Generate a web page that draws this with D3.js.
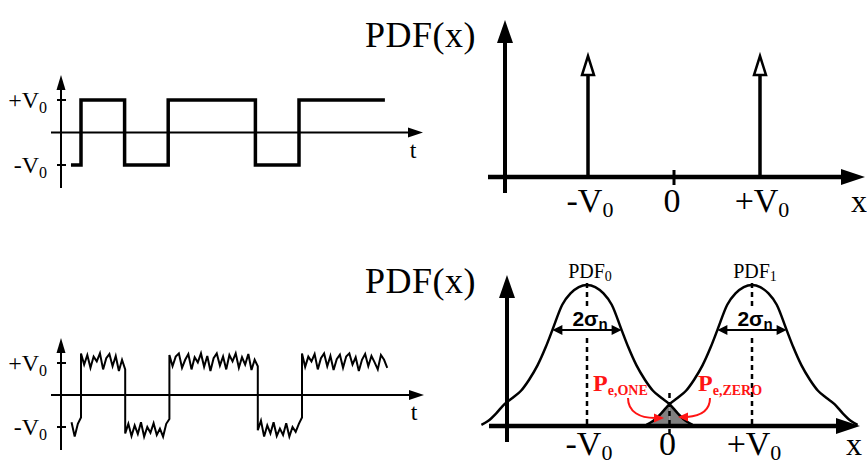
<!DOCTYPE html>
<html>
<head>
<meta charset="utf-8">
<script src="https://cdn.jsdelivr.net/npm/d3@7"></script>
<style>
body { margin: 0; background: #fff; }
svg { display: block; }
</style>
</head>
<body>
<div id="viz"></div>
<script>
// ---- data -------------------------------------------------------------
// bit pattern of both waveforms (1 = +V0, 0 = -V0), in bit periods
const bits = [1, 0, 1, 1, 0, 1, 1];
const cleanStart = -0.23;      // wave starts low just before bit 0
const cleanEnd = 6.97;
// noisy copy: samples every 1/14 bit, starting 3 samples before bit 0
const samplesPerBit = 14;
const noisyStartSample = -3;
const noise = [
  0.15, -0.3, 0.1,
  0.3, -0.05, 0.25, -0.15, 0.2, 0.05, 0.3, -0.2, 0.15, 0.28, -0.1, 0.22, -0.25, 0.1,
  -0.2, 0.1, -0.28, 0.05, -0.22, 0.15, -0.3, 0.0, -0.18, 0.12, -0.25, -0.05, -0.3, 0.1,
  0.25, -0.1, 0.2, 0.3, -0.15, 0.1, 0.28, -0.2, 0.18, 0.02, 0.3, -0.12, 0.22, -0.25,
  0.15, 0.3, -0.08, 0.2, -0.2, 0.25, 0.05, 0.3, -0.15, 0.18, -0.05, 0.28, -0.22, 0.1,
  -0.1, 0.2, -0.3, 0.05, -0.2, 0.15, -0.28, -0.05, -0.25, 0.12, -0.3, 0.0, -0.15, 0.1,
  0.3, -0.12, 0.2, 0.05, 0.28, -0.2, 0.15, 0.3, -0.1, 0.22, -0.22, 0.12, 0.26, -0.15,
  0.2, 0.3, -0.05, 0.18, -0.25, 0.1, 0.28, -0.1, 0.22, 0.02, -0.2, 0.25, 0.1, -0.15
];
const levels = [-1, 1];                 // -V0, +V0
const levelLabels = ['-V', '+V'];

// PDF panels
const pdfCentres = [-1, 1];
const pdfNames = ['0', '1'];
const deltaHeight = 1;
// half of one gaussian bump (offset from centre in V0, relative height)
const pdfOffsets = [0, 0.1, 0.2, 0.3, 0.42, 0.5, 0.6, 0.7, 0.8, 0.9, 1.0, 1.1, 1.2, 1.28];
const pdfHeights = [1, 0.985, 0.94, 0.86, 0.68, 0.56, 0.43, 0.33, 0.25, 0.2, 0.155, 0.09, 0.035, 0.008];
const sigmaMarkIndex = 4;               // 2σ arrow drawn at offset ±0.42
const xTicks = [
  { v: -1, main: '-V', sub: '0' },
  { v: 0, main: '0', sub: '' },
  { v: 1, main: '+V', sub: '0' }
];

// ---- setup ------------------------------------------------------------
const WIDTH = 867, HEIGHT = 466;
const SERIF = '"Liberation Serif", "Times New Roman", serif';
const SANS = '"Liberation Sans", Arial, sans-serif';
const RED = '#ff1414';

const svg = d3.select('#viz').append('svg')
  .attr('width', WIDTH)
  .attr('height', HEIGHT);

const arrowHead = (g, x, y, angle, len, half, fill, stroke) => {
  // tip at (x, y), pointing along angle (deg, 0 = right)
  g.append('path')
    .attr('d', `M0,0L${-len},${-half}L${-len},${half}Z`)
    .attr('transform', `translate(${x},${y}) rotate(${angle})`)
    .attr('fill', fill)
    .attr('stroke', stroke || 'none')
    .attr('stroke-width', stroke ? 2.5 : 0)
    .attr('stroke-linejoin', 'miter');
};

const subText = (g, x, y, main, sub, o) => {
  const t = g.append('text')
    .attr('x', x).attr('y', y)
    .attr('text-anchor', o.anchor || 'middle')
    .attr('font-family', o.family || SERIF)
    .attr('font-size', o.size)
    .attr('font-weight', o.weight || 'normal')
    .attr('fill', o.fill || '#000');
  if (o.spacing) t.attr('letter-spacing', o.spacing);
  t.append('tspan').text(main);
  if (sub) t.append('tspan').attr('font-size', o.subSize).attr('dy', o.subDy).text(sub);
  return t;
};

const levelOf = (t) => t < 0 ? levels[0] : levels[bits[Math.min(bits.length - 1, Math.floor(t))]];

// ---- time-domain panels ----------------------------------------------
const drawTimePanel = (cfg) => {
  const g = svg.append('g').attr('class', 'time-panel');
  const x = d3.scaleLinear().domain([0, 5]).range(cfg.xRange);
  const y = d3.scaleLinear().domain([-1, 1]).range(cfg.yRange);
  const axisX = cfg.axisX;

  // axes
  g.append('line')
    .attr('x1', axisX).attr('x2', axisX)
    .attr('y1', cfg.axisBottom).attr('y2', cfg.axisTop + 10)
    .attr('stroke', '#000').attr('stroke-width', 2);
  arrowHead(g, axisX, cfg.axisTop, -90, 15, 4.5, '#000');

  g.append('line')
    .attr('x1', axisX - 10).attr('x2', cfg.axisRight - 10)
    .attr('y1', y(0)).attr('y2', y(0))
    .attr('stroke', '#000').attr('stroke-width', 2);
  arrowHead(g, cfg.axisRight, y(0), 0, 15, 5, '#000');

  g.append('text')
    .attr('x', cfg.axisRight - 10).attr('y', y(0) + 25)
    .attr('text-anchor', 'middle')
    .attr('font-family', SERIF).attr('font-size', 24)
    .text('t');

  levels.forEach((v, i) => {
    g.append('line')
      .attr('x1', axisX - 4).attr('x2', axisX + 5)
      .attr('y1', y(v)).attr('y2', y(v))
      .attr('stroke', '#000').attr('stroke-width', 2);
    subText(g, 47, y(v) + 8, levelLabels[i], '0', { anchor: 'end', size: 24, subSize: 16, subDy: 5 });
  });

  g.append('path')
    .datum(cfg.points)
    .attr('fill', 'none')
    .attr('stroke', '#000')
    .attr('stroke-width', cfg.stroke)
    .attr('stroke-linejoin', 'miter')
    .attr('d', d3.line()
      .x((d) => x(d[0]))
      .y((d) => y(d[1]))
      .curve(cfg.curve));
};

const cleanPoints = [[cleanStart, levels[0]]];
bits.forEach((b, k) => { cleanPoints.push([k, levels[b]]); });
cleanPoints.push([cleanEnd, levels[bits[bits.length - 1]]]);

const noisyPoints = [];
noise.forEach((n, i) => {
  const s = i + noisyStartSample;
  const t = s / samplesPerBit;
  if (s % samplesPerBit === 0 && levelOf(t - 0.01) !== levelOf(t)) {
    noisyPoints.push([t, levelOf(t - 0.01) + n]);
  }
  noisyPoints.push([t, levelOf(t) + n]);
});

drawTimePanel({
  xRange: [81, 299], yRange: [165, 100],
  axisX: 61, axisTop: 75, axisBottom: 188, axisRight: 423,
  points: cleanPoints, curve: d3.curveStepAfter, stroke: 3.5
});

drawTimePanel({
  xRange: [81, 302], yRange: [427, 363],
  axisX: 61, axisTop: 338, axisBottom: 450, axisRight: 424,
  points: noisyPoints, curve: d3.curveLinear, stroke: 2
});

// ---- PDF panels -------------------------------------------------------
const drawPdfAxes = (g, cfg, x) => {
  g.append('line')
    .attr('x1', cfg.axisX).attr('x2', cfg.axisX)
    .attr('y1', cfg.axisBottom).attr('y2', cfg.axisTop + 18)
    .attr('stroke', '#000').attr('stroke-width', 4);
  arrowHead(g, cfg.axisX, cfg.axisTop, -90, 23, 8, '#000');

  g.append('line')
    .attr('x1', cfg.axisLeft).attr('x2', cfg.axisRight - 18)
    .attr('y1', cfg.baseY).attr('y2', cfg.baseY)
    .attr('stroke', '#000').attr('stroke-width', 4.5);
  arrowHead(g, cfg.axisRight, cfg.baseY, 0, 24, 8, '#000');

  subText(g, 476, cfg.titleY, 'PDF(x)', '', { anchor: 'end', size: 36, spacing: 0.5 });

  xTicks.forEach((d) => {
    subText(g, x(d.v) + (d.sub ? 2 : -2), cfg.labelY, d.main, d.sub, { size: 34, subSize: 22, subDy: 5 });
  });
  g.append('text')
    .attr('x', cfg.axisRight - 6).attr('y', cfg.labelY)
    .attr('text-anchor', 'middle')
    .attr('font-family', SERIF).attr('font-size', 32)
    .text('x');
};

// top: ideal signal -> two delta functions
(() => {
  const cfg = { axisX: 505, axisTop: 20, axisBottom: 193, axisLeft: 488, axisRight: 865, baseY: 177, titleY: 47, labelY: 212 };
  const g = svg.append('g').attr('class', 'pdf-delta');
  const x = d3.scaleLinear().domain([-1, 1]).range([588, 760]);
  const y = d3.scaleLinear().domain([0, deltaHeight]).range([cfg.baseY, 55]);
  drawPdfAxes(g, cfg, x);

  g.append('line')
    .attr('x1', x(0)).attr('x2', x(0))
    .attr('y1', cfg.baseY - 7).attr('y2', cfg.baseY + 8)
    .attr('stroke', '#000').attr('stroke-width', 3);

  pdfCentres.forEach((c) => {
    g.append('line')
      .attr('x1', x(c)).attr('x2', x(c))
      .attr('y1', y(0)).attr('y2', y(deltaHeight) + 19)
      .attr('stroke', '#000').attr('stroke-width', 3.5);
    arrowHead(g, x(c), y(deltaHeight) + 1, -90, 19, 6, '#fff', '#000');
  });
})();

// bottom: noisy signal -> two gaussians
(() => {
  const cfg = { axisX: 507, axisTop: 275, axisBottom: 442, axisLeft: 489, axisRight: 860, baseY: 426, titleY: 293, labelY: 455 };
  const g = svg.append('g').attr('class', 'pdf-gauss');
  const x = d3.scaleLinear().domain([-1, 1]).range([587, 752]);
  const y = d3.scaleLinear().domain([0, 1]).range([cfg.baseY, 285]);

  const bump = (c) => {
    const pts = [];
    for (let i = pdfOffsets.length - 1; i > 0; i--) pts.push([c - pdfOffsets[i], pdfHeights[i]]);
    pdfOffsets.forEach((o, i) => pts.push([c + o, pdfHeights[i]]));
    return pts;
  };

  // error areas: tail of PDF1 left of 0, tail of PDF0 right of 0
  const area = d3.area()
    .x((d) => x(d[0]))
    .y0(y(0))
    .y1((d) => y(d[1]))
    .curve(d3.curveMonotoneX);
  const tail1 = bump(1).filter((d) => d[0] <= 0.0001);
  const tail0 = bump(-1).filter((d) => d[0] >= -0.0001);
  [tail1, tail0].forEach((t) => {
    g.append('path').datum(t).attr('fill', '#808080').attr('d', area);
  });

  drawPdfAxes(g, cfg, x);

  const line = d3.line()
    .x((d) => x(d[0]))
    .y((d) => y(d[1]))
    .curve(d3.curveMonotoneX);

  pdfCentres.forEach((c, i) => {
    g.append('path')
      .datum(bump(c))
      .attr('fill', 'none')
      .attr('stroke', '#000')
      .attr('stroke-width', 2.5)
      .attr('d', line);

    // dashed centre line, broken around the 2σ label
    [[y(1) - 2, 306], [338, y(0)]].forEach((seg) => {
      g.append('line')
        .attr('x1', x(c)).attr('x2', x(c))
        .attr('y1', seg[0]).attr('y2', seg[1])
        .attr('stroke', '#000').attr('stroke-width', 2.5)
        .attr('stroke-dasharray', '5,4');
    });

    // 2σ arrow
    const o = pdfOffsets[sigmaMarkIndex];
    const ay = y(pdfHeights[sigmaMarkIndex]);
    g.append('line')
      .attr('x1', x(c - o) + 6).attr('x2', x(c + o) - 6)
      .attr('y1', ay).attr('y2', ay)
      .attr('stroke', '#000').attr('stroke-width', 2);
    arrowHead(g, x(c - o), ay, 180, 10, 5, '#000');
    arrowHead(g, x(c + o), ay, 0, 10, 5, '#000');

    subText(g, x(c) + 3, 326, '2σ', 'n', { family: SANS, weight: 'bold', size: 21, subSize: 15, subDy: 3 });
    subText(g, x(c) + 3, 278, 'PDF', pdfNames[i], { size: 20, subSize: 14, subDy: 3 });
  });

  // decision threshold at 0
  g.append('line')
    .attr('x1', x(0)).attr('x2', x(0))
    .attr('y1', 393).attr('y2', 436)
    .attr('stroke', '#000').attr('stroke-width', 2.5)
    .attr('stroke-dasharray', '5,4');

  // error probability labels and arrows
  subText(g, 593, 391, 'P', 'e,ONE', { anchor: 'start', weight: 'bold', size: 24, subSize: 14, subDy: 4, fill: RED });
  subText(g, 698, 391, 'P', 'e,ZERO', { anchor: 'start', weight: 'bold', size: 24, subSize: 14, subDy: 4, fill: RED });

  g.append('path')
    .attr('d', 'M628,398C628,412 640,418 655,418')
    .attr('fill', 'none').attr('stroke', RED).attr('stroke-width', 2);
  arrowHead(g, 664, 418, 0, 10, 4.5, RED);

  g.append('path')
    .attr('d', 'M710,398C710,411 700,416 687,417')
    .attr('fill', 'none').attr('stroke', RED).attr('stroke-width', 2);
  arrowHead(g, 678, 417, 180, 10, 4.5, RED);
})();
</script>
</body>
</html>
